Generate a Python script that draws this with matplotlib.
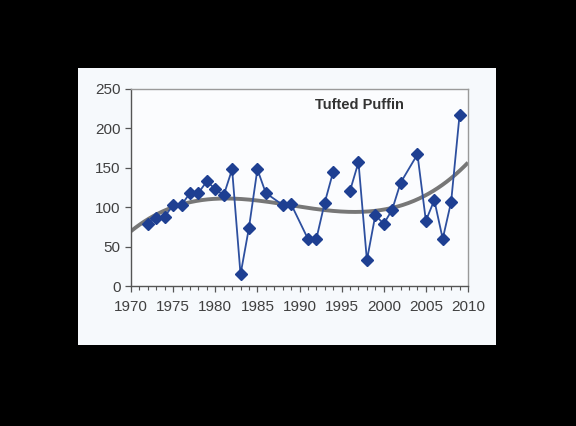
import numpy as np
import matplotlib.pyplot as plt
from matplotlib.ticker import MultipleLocator

plt.rcParams['font.family'] = ['Liberation Sans', 'DejaVu Sans']

# Tufted Puffin index by year (NaN breaks the line where a year is missing)
years = [1972, 1973, 1974, 1975, 1976, 1977, 1978, 1979, 1980, 1981,
         1982, 1983, 1984, 1985, 1986, 1988, 1989, 1991, 1992, 1993,
         1994, 1995, 1996, 1997, 1998, 1999, 2000, 2001, 2002, 2004,
         2005, 2006, 2007, 2008, 2009]
values = [79, 87, 88, 103, 103, 118, 118, 133, 123, 115,
          148, 15, 74, 148, 118, 103, 104, 60, 60, 106,
          145, np.nan, 121, 157, 33, 90, 79, 97, 131, 167,
          83, 109, 60, 107, 217]
x_ticks = [1970, 1975, 1980, 1985, 1990, 1995, 2000, 2005, 2010]
y_ticks = [0, 50, 100, 150, 200, 250]
title = "Tufted Puffin"

fig = plt.figure(figsize=(5.76, 4.26), dpi=100, facecolor='black')

# light page panel behind the chart
bg = fig.add_axes([78 / 576, 81 / 426, 418 / 576, 277 / 426], zorder=0)
bg.set_facecolor('#f6f9fc')
bg.set_xticks([])
bg.set_yticks([])
for s in bg.spines.values():
    s.set_visible(False)

ax = fig.add_axes([131 / 576, 139.7 / 426, 337 / 576, 197.6 / 426], zorder=1)
ax.set_facecolor('#fbfcfe')

yrs = np.array(years, dtype=float)
vals = np.array(values, dtype=float)

# third-order polynomial trend through the observed values
ok = ~np.isnan(vals)
coef = np.polyfit(yrs[ok] - 1990, vals[ok], 3)
xs = np.linspace(1970, 2010, 300)
ax.plot(xs, np.polyval(coef, xs - 1990), color='#777777', lw=2.8,
        solid_capstyle='butt', zorder=2)

ax.plot(yrs, vals, color='#2d4f9f', lw=1.3, marker='D', markersize=6,
        markerfacecolor='#1e3f92', markeredgecolor='#1e3f92', zorder=3)

ax.set_xlim(1970, 2010)
ax.set_ylim(0, 250)
ax.set_xticks(x_ticks)
ax.set_yticks(y_ticks)
ax.xaxis.set_minor_locator(MultipleLocator(1))
ax.tick_params(axis='both', which='major', labelsize=11, labelcolor='#404040',
               color='#555555', length=4, width=0.9, direction='out')
ax.tick_params(axis='x', which='minor', color='#555555', length=3, width=0.8,
               direction='out')
ax.tick_params(axis='x', pad=6)

for side in ('top', 'right'):
    ax.spines[side].set_color('#9a9a9a')
    ax.spines[side].set_linewidth(1.0)
for side in ('left', 'bottom'):
    ax.spines[side].set_color('#555555')
    ax.spines[side].set_linewidth(1.0)

ax.text(0.545, 0.955, title, transform=ax.transAxes, fontsize=10.5,
        fontweight='bold', color='#333333', va='top', ha='left')

fig.savefig('out.png', dpi=100, facecolor='black')
